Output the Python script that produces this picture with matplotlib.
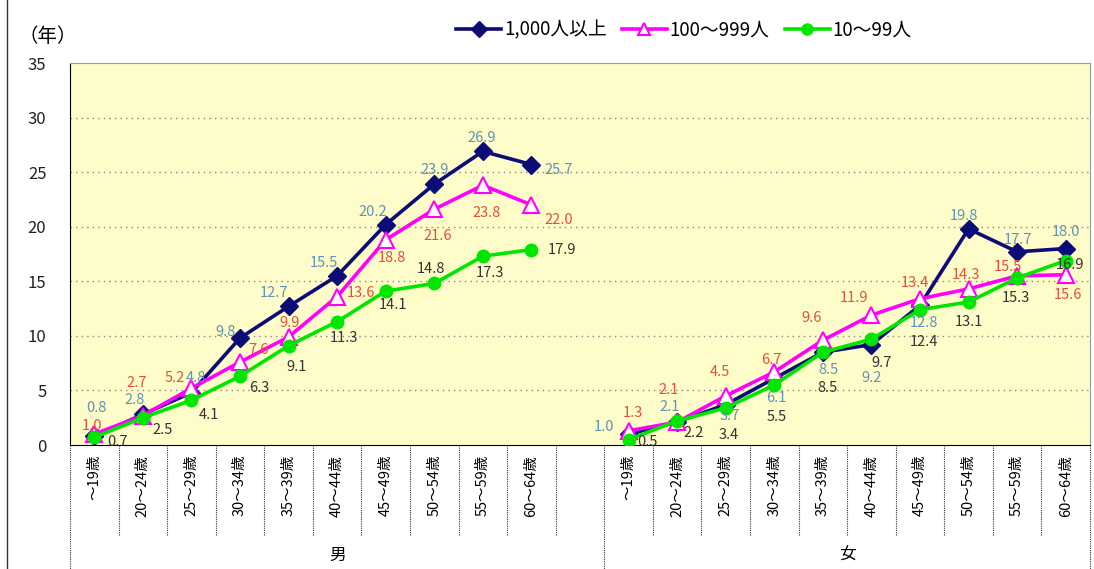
import matplotlib.pyplot as plt
from matplotlib.lines import Line2D

plt.rcParams['font.family'] = ['Noto Sans CJK JP', 'DejaVu Sans']

# age groups (same for both sexes)
ages = ['～19歳', '20～24歳', '25～29歳', '30～34歳', '35～39歳',
        '40～44歳', '45～49歳', '50～54歳', '55～59歳', '60～64歳']
groups = ['男', '女']
series_names = ['1,000人以上', '100～999人', '10～99人']

# years of service, men
men_big = [0.8, 2.8, 4.8, 9.8, 12.7, 15.5, 20.2, 23.9, 26.9, 25.7]
men_mid = [1.0, 2.7, 5.2, 7.6, 9.9, 13.6, 18.8, 21.6, 23.8, 22.0]
men_small = [0.7, 2.5, 4.1, 6.3, 9.1, 11.3, 14.1, 14.8, 17.3, 17.9]
# years of service, women
women_big = [1.0, 2.1, 3.7, 6.1, 8.5, 9.2, 12.8, 19.8, 17.7, 18.0]
women_mid = [1.3, 2.1, 4.5, 6.7, 9.6, 11.9, 13.4, 14.3, 15.5, 15.6]
women_small = [0.5, 2.2, 3.4, 5.5, 8.5, 9.7, 12.4, 13.1, 15.3, 16.9]

# label offsets in pixels (dx, dy downward)
m_big_off = [(2, -28), (-8, -14), (4, -15), (-15, -6), (-15, -13), (-13, -13), (-13, -13), (0, -14), (-1, -13), (27, 5)]
m_mid_off = [(-2, -8), (-6, -33), (-17, -10), (18, -12), (1, -14), (24, -4), (6, 18), (3, 27), (4, 28), (27, 15)]
m_small_off = [(23, 5), (20, 12), (18, 15), (19, 12), (8, 21), (7, 16), (7, 14), (-3, -14), (7, 17), (31, 0)]
f_big_off = [(-25, -7), (-8, -15), (4, 11), (2, 20), (6, 18), (0, 33), (4, 18), (-5, -13), (1, -12), (0, -17)]
f_mid_off = [(4, -18), (-9, -32), (-6, -24), (-3, -12), (-11, -22), (-17, -17), (-5, -16), (-3, -14), (-9, -9), (2, 20)]
f_small_off = [(19, 2), (16, 12), (3, 27), (2, 32), (5, 36), (10, 24), (4, 32), (0, 20), (-1, 20), (4, 4)]

n = len(ages)
x_men = list(range(n))
x_women = list(range(n + 1, 2 * n + 1))

styles = [
    dict(color='#0c0c78', marker='D', ms=9, mfc='#0c0c78', mec='#0c0c78'),
    dict(color='#ff00ff', marker='^', ms=11, mfc='white', mec='#ff00ff', mew=1.5),
    dict(color='#00e600', marker='o', ms=9, mfc='#00e600', mec='#00e600'),
]
label_colors = ['#5f93b8', '#e4503a', '#333333']

fig = plt.figure(figsize=(10.94, 5.69), dpi=100)
ax = fig.add_axes([70 / 1094, 1 - 445 / 569, 1020 / 1094, 382 / 569])
ax.set_facecolor('#fefcc8')

data = [
    (men_big, women_big, m_big_off, f_big_off),
    (men_mid, women_mid, m_mid_off, f_mid_off),
    (men_small, women_small, m_small_off, f_small_off),
]
for i, (mv, fv, moff, foff) in enumerate(data):
    st = styles[i]
    ax.plot(x_men, mv, lw=2.6, zorder=3 + i, **st)
    ax.plot(x_women, fv, lw=2.6, zorder=3 + i, **st)
    for xs, vals, offs in [(x_men, mv, moff), (x_women, fv, foff)]:
        for xx, v, (dx, dy) in zip(xs, vals, offs):
            ax.annotate(f'{v:.1f}', (xx, v), xytext=(dx, -dy), textcoords='offset pixels',
                        ha='center', va='center', fontsize=10.5, color=label_colors[i], zorder=10)

ax.set_xlim(-0.5, 2 * n + 0.5)
ax.set_ylim(0, 35)
ax.set_yticks(range(0, 36, 5))
ax.tick_params(axis='y', length=0, pad=17, labelsize=12, labelcolor='#222222')
ax.set_xticks(x_men + x_women, ages + ages, rotation=90, fontsize=10.5)
ax.tick_params(axis='x', length=0, pad=7)
for lab in ax.get_xticklabels():
    lab.set_verticalalignment('top')

for y in range(5, 35, 5):
    ax.axhline(y, color='#888888', lw=1, ls=(0, (1, 3)), zorder=1)

ax.spines['left'].set_color('black')
ax.spines['bottom'].set_color('black')
ax.spines['top'].set_color('#999999')
ax.spines['right'].set_color('#999999')

# category separators below axis
trans = ax.get_xaxis_transform()
for b in range(1, 2 * n + 1):
    if b == n + 1:
        continue
    ax.plot([b - 0.5, b - 0.5], [0, -0.236], color='#333333', lw=0.8, ls=(0, (1, 1)),
            transform=trans, clip_on=False)
for b in [-0.5, n + 0.5, 2 * n + 0.5]:
    ax.plot([b, b], [0, -0.33], color='#333333', lw=0.8, ls=(0, (1, 1)),
            transform=trans, clip_on=False)
ax.text(n / 2, -0.288, groups[0], transform=trans, ha='center', va='center', fontsize=12)
ax.text(n + 1 + (n - 1) / 2, -0.288, groups[1], transform=trans, ha='center', va='center', fontsize=12)

fig.text(48 / 1094, 1 - 36 / 569, '（年）', ha='center', va='center', fontsize=14)

# outer frame line on the left
fig.add_artist(Line2D([7 / 1094, 7 / 1094], [0, 1], color='#333333', lw=1, transform=fig.transFigure))

legend_ms = [8, 9, 8]
handles = [Line2D([], [], lw=2.6, **{**st, 'ms': m}) for st, m in zip(styles, legend_ms)]
fig.legend(handles, series_names, loc='center', bbox_to_anchor=(684 / 1094, 1 - 30 / 569),
           ncol=3, frameon=False, fontsize=13.5, handlelength=2.4, handletextpad=0.15,
           columnspacing=0.8)

fig.savefig('out.png', dpi=100)
